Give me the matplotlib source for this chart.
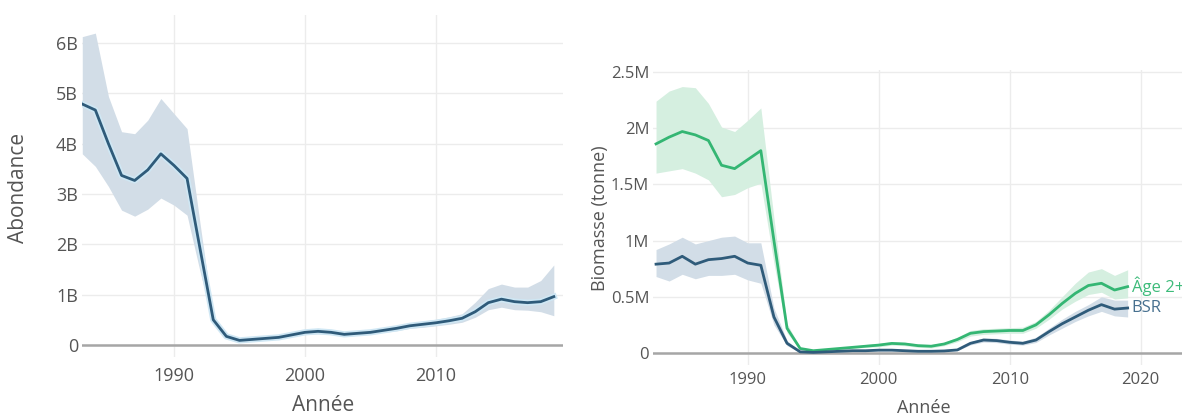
import numpy as np
import matplotlib.pyplot as plt

plt.rcParams['font.family'] = ['Open Sans', 'DejaVu Sans']

years = np.arange(1983, 2020)

# Abondance (milliards)
abondance = [4.79, 4.67, 4.00, 3.37, 3.27, 3.48, 3.80, 3.57, 3.31,
             1.90, 0.50, 0.17, 0.09, 0.11, 0.13, 0.15, 0.20, 0.25, 0.27,
             0.25, 0.21, 0.23, 0.25, 0.29, 0.33, 0.38, 0.41, 0.44, 0.48,
             0.53, 0.66, 0.84, 0.91, 0.86, 0.84, 0.86, 0.96]
abondance_hi = [6.13, 6.20, 4.94, 4.24, 4.20, 4.47, 4.90, 4.60, 4.30,
                2.40, 0.56, 0.20, 0.11, 0.13, 0.16, 0.18, 0.24, 0.30, 0.33,
                0.31, 0.26, 0.28, 0.30, 0.34, 0.39, 0.44, 0.47, 0.51, 0.56,
                0.62, 0.85, 1.12, 1.21, 1.15, 1.15, 1.28, 1.59]
abondance_lo = [3.80, 3.55, 3.15, 2.68, 2.56, 2.70, 2.92, 2.78, 2.58,
                1.45, 0.44, 0.14, 0.07, 0.09, 0.11, 0.12, 0.17, 0.21, 0.22,
                0.21, 0.17, 0.19, 0.21, 0.25, 0.28, 0.33, 0.35, 0.38, 0.41,
                0.45, 0.55, 0.70, 0.75, 0.70, 0.69, 0.66, 0.58]

# Biomasse (millions de tonnes)
age2 = [1.86, 1.92, 1.97, 1.94, 1.89, 1.67, 1.64, 1.72, 1.80,
        1.00, 0.22, 0.04, 0.02, 0.03, 0.04, 0.05, 0.06, 0.07, 0.085,
        0.08, 0.065, 0.06, 0.08, 0.12, 0.175, 0.19, 0.195, 0.20, 0.20,
        0.25, 0.34, 0.44, 0.53, 0.60, 0.62, 0.56, 0.59]
age2_hi = [2.24, 2.33, 2.37, 2.36, 2.22, 2.01, 1.97, 2.07, 2.18,
           1.20, 0.26, 0.05, 0.03, 0.04, 0.05, 0.06, 0.075, 0.085, 0.10,
           0.095, 0.08, 0.075, 0.095, 0.14, 0.20, 0.215, 0.22, 0.225, 0.23,
           0.28, 0.38, 0.50, 0.62, 0.72, 0.75, 0.69, 0.74]
age2_lo = [1.60, 1.62, 1.64, 1.60, 1.54, 1.39, 1.41, 1.47, 1.51,
           0.80, 0.18, 0.03, 0.015, 0.02, 0.03, 0.04, 0.05, 0.055, 0.07,
           0.065, 0.05, 0.045, 0.065, 0.10, 0.15, 0.165, 0.17, 0.175, 0.175,
           0.22, 0.30, 0.39, 0.46, 0.52, 0.54, 0.48, 0.49]
bsr = [0.79, 0.80, 0.86, 0.79, 0.83, 0.84, 0.86, 0.80, 0.78,
       0.32, 0.086, 0.01, 0.005, 0.01, 0.015, 0.02, 0.02, 0.025, 0.025,
       0.02, 0.015, 0.015, 0.018, 0.027, 0.086, 0.115, 0.11, 0.095, 0.086,
       0.115, 0.19, 0.26, 0.32, 0.38, 0.43, 0.39, 0.40]
bsr_hi = [0.92, 0.97, 1.03, 0.97, 1.00, 1.03, 1.04, 0.98, 0.98,
          0.40, 0.11, 0.015, 0.008, 0.014, 0.02, 0.026, 0.027, 0.033, 0.033,
          0.027, 0.02, 0.02, 0.024, 0.035, 0.10, 0.135, 0.13, 0.115, 0.105,
          0.14, 0.22, 0.30, 0.37, 0.43, 0.50, 0.47, 0.47]
bsr_lo = [0.68, 0.64, 0.70, 0.66, 0.69, 0.69, 0.70, 0.65, 0.62,
          0.25, 0.065, 0.006, 0.003, 0.007, 0.011, 0.015, 0.015, 0.019, 0.019,
          0.015, 0.011, 0.011, 0.013, 0.02, 0.072, 0.097, 0.092, 0.078, 0.07,
          0.093, 0.16, 0.22, 0.28, 0.33, 0.37, 0.33, 0.32]

left_yticks = [0, 1, 2, 3, 4, 5, 6]
left_ylabels = ["0", "1B", "2B", "3B", "4B", "5B", "6B"]
right_yticks = [0, 0.5, 1, 1.5, 2, 2.5]
right_ylabels = ["0", "0.5M", "1M", "1.5M", "2M", "2.5M"]

BLUE = "#2f5b7a"
BLUE_FILL = "#d2dde7"
GREEN = "#34b673"
GREEN_FILL = "#d5efe0"
TEXT = "#555555"

fig = plt.figure(figsize=(11.82, 4.15), dpi=100)
ax1 = fig.add_axes([0.0696, 0.1398, 0.4067, 0.824])
ax2 = fig.add_axes([0.5528, 0.1205, 0.4788, 0.711])


def style(ax, tick_size, xpad):
    for s in ax.spines.values():
        s.set_visible(False)
    ax.grid(True, color="#ececec", lw=1)
    ax.set_axisbelow(True)
    ax.axhline(0, color="#a6a6a6", lw=1.8, zorder=1)
    ax.tick_params(length=0, colors=TEXT, labelsize=tick_size)
    ax.tick_params(axis="y", pad=3)
    ax.tick_params(axis="x", pad=xpad)


# abondance
ax1.fill_between(years, abondance_lo, abondance_hi, color=BLUE_FILL, lw=0, zorder=2)
ax1.plot(years, abondance, color="#cfe7f4", lw=4.5, zorder=3)
ax1.plot(years, abondance, color=BLUE, lw=2, zorder=4)
ax1.set_xlim(1983, 2019.7)
ax1.set_ylim(-0.24, 6.56)
ax1.set_xticks([1990, 2000, 2010])
ax1.set_yticks(left_yticks, left_ylabels)
style(ax1, 13, 7)
ax1.set_xlabel("Année", fontsize=15, color=TEXT)
ax1.xaxis.set_label_coords(0.5, -0.143)
ax1.xaxis.label.set_va("center")
ax1.set_ylabel("Abondance", fontsize=15, color=TEXT)
ax1.yaxis.set_label_coords(-0.132, 0.494)
ax1.yaxis.label.set_va("center")

# biomasse
ax2.fill_between(years, age2_lo, age2_hi, color=GREEN_FILL, lw=0, zorder=2)
ax2.fill_between(years, bsr_lo, bsr_hi, color=BLUE_FILL, lw=0, zorder=2)
ax2.plot(years, age2, color=GREEN, lw=2, zorder=4)
ax2.plot(years, bsr, color=BLUE, lw=2, zorder=4)
ax2.set_xlim(1982.8, 2026)
ax2.set_ylim(-0.107, 2.518)
ax2.set_xticks([1990, 2000, 2010, 2020])
ax2.set_yticks(right_yticks, right_ylabels)
style(ax2, 12, 5)
ax2.set_xlabel("Année", fontsize=13, color=TEXT)
ax2.xaxis.set_label_coords(0.478, -0.146)
ax2.xaxis.label.set_va("center")
ax2.set_ylabel("Biomasse (tonne)", fontsize=13, color=TEXT)
ax2.yaxis.set_label_coords(-0.094, 0.498)
ax2.yaxis.label.set_va("center")

ax2.annotate("Âge 2+", (years[-1], age2[-1]), xytext=(3, 0), textcoords="offset points",
             color="#3dbb7a", fontsize=12, va="center", ha="left")
ax2.annotate("BSR", (years[-1], bsr[-1]), xytext=(3, 0), textcoords="offset points",
             color="#47708f", fontsize=12, va="center", ha="left")

fig.savefig("out.png", dpi=100, facecolor="white")
